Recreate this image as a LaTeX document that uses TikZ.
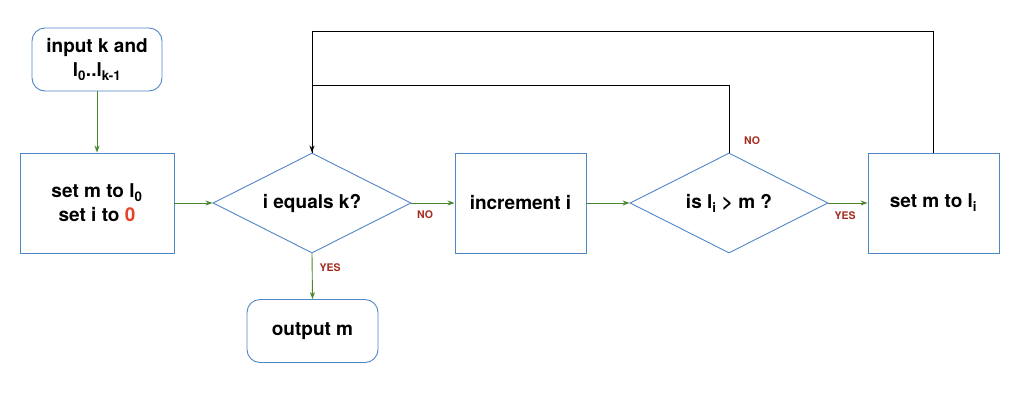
\documentclass[tikz,border=0pt]{standalone}
\usepackage{fontspec}
\setmainfont{TeX Gyre Heros}
\usetikzlibrary{shapes.geometric,arrows.meta}
\definecolor{boxblue}{HTML}{4F86C6}
\definecolor{flowgreen}{HTML}{4A862E}
\definecolor{labred}{HTML}{A52A1E}
\definecolor{zerored}{HTML}{E5432B}
\tikzset{
  base/.style={draw=boxblue, line width=0.9pt, align=center, inner sep=0pt,
    font=\bfseries\fontsize{19}{24}\selectfont},
  procbox/.style={base, rectangle, minimum width=#1, minimum height=100pt},
  termbox/.style={base, rectangle, rounded corners=13pt, minimum width=#1, minimum height=63pt},
  decision/.style={base, diamond, minimum width=198pt, minimum height=100pt, aspect=1.98},
  flow/.style={draw=flowgreen, line width=0.9pt, -{Stealth[length=7pt,width=5pt]}},
  loop/.style={draw=black, line width=0.9pt},
  lab/.style={text=labred, font=\bfseries\fontsize{10.5}{12}\selectfont, inner sep=0pt}
}
\begin{document}
\begin{tikzpicture}[x=1pt,y=-1pt]
\useasboundingbox (0,0) rectangle (1024,400);
\node[termbox=130pt] (input) at (97,59.5) {input k and\\l\textsubscript{0}..l\textsubscript{k-1}};
\node[procbox=154pt] (setm) at (97,203) {set m to l\textsubscript{0}\\set i to \textcolor{zerored}{0}};
\node[decision] (eq) at (312,203) {i equals k?};
\node[termbox=131pt] (out) at (312.5,331) {output m};
\node[procbox=131pt] (inc) at (520.5,203) {increment i};
\node[decision] (gt) at (729,203) {is l\textsubscript{i} > m ?};
\node[procbox=131pt] (setli) at (933.5,203) {set m to l\textsubscript{i}};

\coordinate (top) at (eq.north);
\draw[flow] (input.south) -- (setm.north);
\draw[flow] (setm.east) -- (eq.west);
\draw[flow] (eq.east) -- (inc.west);
\draw[flow] (inc.east) -- (gt.west);
\draw[flow] (gt.east) -- (setli.east -| setli.west);
\draw[flow] (eq.south) -- (out.north);
\draw[loop] (gt.north) -- ++(0,-67) -| (top);
\draw[loop, -{Stealth[length=7pt,width=5pt]}] (setli.north) -- ++(0,-121) -| (top);

\node[lab] (no1) at (425,215) {NO};
\node[lab] (yes1) at (330,268) {YES};
\node[lab] (no2) at (752,141) {NO};
\node[lab] (yes2) at (845,216) {YES};
\end{tikzpicture}
\end{document}
